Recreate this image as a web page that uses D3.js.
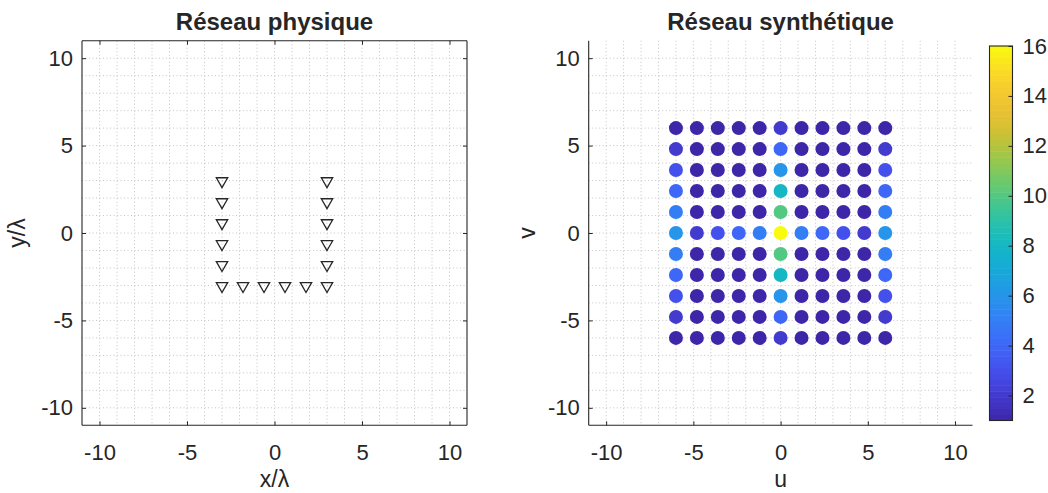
<!DOCTYPE html>
<html>
<head>
<meta charset="utf-8">
<script src="https://cdn.jsdelivr.net/npm/d3@7"></script>
<style>
  body { margin: 0; background: #fff; }
  text { font-family: "Liberation Sans", Arial, Helvetica, sans-serif; fill: #262626; }
</style>
</head>
<body>
<div id="fig"></div>
<script>
// physical array element positions (x/lambda, y/lambda)
var physX = [-3, -3, -3, -3, -3, -3, 3, 3, 3, 3, 3, 3, -1.8, -0.6, 0.6, 1.8];
var physY = [3, 1.8, 0.6, -0.6, -1.8, -3, 3, 1.8, 0.6, -0.6, -1.8, -3, -3, -3, -3, -3];

// synthetic (co-array) grid positions, u and v
var uvGrid = [-6, -4.8, -3.6, -2.4, -1.2, 0, 1.2, 2.4, 3.6, 4.8, 6];
// counts per point, rows from v = 6 (top) down to v = -6, columns u = -6 .. 6
var counts = [
  [1, 1, 1, 1, 1, 2, 1, 1, 1, 1, 1],
  [2, 1, 1, 1, 1, 4, 1, 1, 1, 1, 2],
  [3, 1, 1, 1, 1, 6, 1, 1, 1, 1, 3],
  [4, 1, 1, 1, 1, 8, 1, 1, 1, 1, 4],
  [5, 1, 1, 1, 1, 10, 1, 1, 1, 1, 5],
  [6, 2, 3, 4, 5, 16, 5, 4, 3, 2, 6],
  [5, 1, 1, 1, 1, 10, 1, 1, 1, 1, 5],
  [4, 1, 1, 1, 1, 8, 1, 1, 1, 1, 4],
  [3, 1, 1, 1, 1, 6, 1, 1, 1, 1, 3],
  [2, 1, 1, 1, 1, 4, 1, 1, 1, 1, 2],
  [1, 1, 1, 1, 1, 2, 1, 1, 1, 1, 1]
];

var axisTicks = [-10, -5, 0, 5, 10];
var cbarTicks = [2, 4, 6, 8, 10, 12, 14, 16];
var titles = ["Réseau physique", "Réseau synthétique"];
var xLabels = ["x/λ", "u"];
var yLabels = ["y/λ", "v"];

// parula-like colormap anchors
var parula = ["#3e26a8", "#4747eb", "#3e6ffe", "#2796eb", "#08b5d0",
              "#31c69f", "#80cc59", "#dcbd29", "#fcc538", "#f9fb0e"];

var W = 1048, H = 493;
var svg = d3.select("#fig").append("svg").attr("width", W).attr("height", H);

var colorT = d3.scaleLinear().domain([1, 16]).range([0, 1]);
var interp = d3.interpolateRgbBasis(parula);
function cmap(v) { return interp(colorT(v)); }
// plain hyphen for negatives, like the original figure
var fmt = function(d) { return String(d); };

// axes boxes: [left, right]
var panels = [
  {x0: 82, x1: 467, box: true},
  {x0: 588.7, x1: 972.5, box: false}
];
var yTop = 40.7, yBot = 425.3;

panels.forEach(function(p, k) {
  var x = d3.scaleLinear().domain([-11, 11]).range([p.x0, p.x1]);
  var y = d3.scaleLinear().domain([-11, 11]).range([yBot, yTop]);
  p.x = x; p.y = y;
  var g = svg.append("g");

  // dotted grid at every unit
  var gridVals = d3.range(-10, 11);
  g.selectAll(".gx").data(gridVals).enter().append("line")
    .attr("x1", function(d) { return x(d); }).attr("x2", function(d) { return x(d); })
    .attr("y1", yTop).attr("y2", yBot)
    .attr("stroke", "#c4c4c4").attr("stroke-width", 1).attr("stroke-dasharray", "1,2.5");
  g.selectAll(".gy").data(gridVals).enter().append("line")
    .attr("y1", function(d) { return y(d); }).attr("y2", function(d) { return y(d); })
    .attr("x1", p.x0).attr("x2", p.x1)
    .attr("stroke", "#c4c4c4").attr("stroke-width", 1).attr("stroke-dasharray", "1,2.5");

  // axes
  var ax = g.append("g").attr("transform", "translate(0," + yBot + ")")
    .call(d3.axisBottom(x).tickValues(axisTicks).tickSize(-4).tickPadding(19).tickFormat(fmt));
  var ay = g.append("g").attr("transform", "translate(" + p.x0 + ",0)")
    .call(d3.axisLeft(y).tickValues(axisTicks).tickSize(-4).tickPadding(9).tickFormat(fmt));
  [ax, ay].forEach(function(a) {
    a.select(".domain").attr("stroke", "#262626").attr("stroke-width", 1.1);
    a.selectAll(".tick line").attr("stroke", "#262626");
    a.selectAll(".tick text").style("font-size", "22px").attr("fill", "#262626")
      .style("font-family", '"Liberation Sans", Arial, sans-serif');
  });
  ax.select(".domain").attr("d", "M" + p.x0 + ",0H" + p.x1);
  ay.select(".domain").attr("d", "M0," + yTop + "V" + yBot);

  if (p.box) {
    var at = g.append("g").attr("transform", "translate(0," + yTop + ")")
      .call(d3.axisTop(x).tickValues(axisTicks).tickSize(-4).tickFormat(""));
    var ar = g.append("g").attr("transform", "translate(" + p.x1 + ",0)")
      .call(d3.axisRight(y).tickValues(axisTicks).tickSize(-4).tickFormat(""));
    at.select(".domain").attr("d", "M" + p.x0 + ",0H" + p.x1);
    ar.select(".domain").attr("d", "M0," + yTop + "V" + yBot);
    [at, ar].forEach(function(a) {
      a.select(".domain").attr("stroke", "#262626").attr("stroke-width", 1.1);
      a.selectAll(".tick line").attr("stroke", "#262626");
    });
  }

  // titles and labels
  var cx = (p.x0 + p.x1) / 2;
  svg.append("text").attr("x", cx).attr("y", 29.5).attr("text-anchor", "middle")
    .style("font-size", "24px").style("font-weight", "bold").attr("fill", "#000")
    .text(titles[k]);
  svg.append("text").attr("x", cx).attr("y", 487).attr("text-anchor", "middle")
    .style("font-size", "23px").text(xLabels[k]);
  var ylx = k === 0 ? 25 : 535;
  svg.append("text").attr("transform", "translate(" + ylx + "," + ((yTop + yBot) / 2) + ") rotate(-90)")
    .attr("text-anchor", "middle").style("font-size", "23px").text(yLabels[k]);
});

// physical array markers (downward triangles)
var pl = panels[0];
var tri = d3.symbol().type(d3.symbolTriangle).size(56);
svg.append("g").selectAll("path").data(physX).enter().append("path")
  .attr("d", tri)
  .attr("transform", function(d, i) { return "translate(" + pl.x(d) + "," + (pl.y(physY[i]) + 0.5) + ") rotate(180)"; })
  .attr("fill", "none").attr("stroke", "#262626").attr("stroke-width", 1.3);

// synthetic array points
var pr = panels[1];
var pts = [];
counts.forEach(function(row, r) {
  row.forEach(function(c, j) {
    pts.push({u: uvGrid[j], v: uvGrid[uvGrid.length - 1 - r], c: c});
  });
});
svg.append("g").selectAll("circle").data(pts).enter().append("circle")
  .attr("cx", function(d) { return pr.x(d.u); })
  .attr("cy", function(d) { return pr.y(d.v); })
  .attr("r", 7)
  .attr("fill", function(d) { return cmap(d.c); });

// colorbar
var cbX0 = 989.5, cbX1 = 1012.5, cbTop = 46, cbBot = 420.5;
var cy = d3.scaleLinear().domain([1, 16]).range([cbBot, cbTop]);
var nBands = 64;
var bands = d3.range(nBands);
var bandH = (cbBot - cbTop) / nBands;
svg.append("g").selectAll("rect").data(bands).enter().append("rect")
  .attr("x", cbX0).attr("width", cbX1 - cbX0)
  .attr("y", function(d) { return cbBot - (d + 1) * bandH; })
  .attr("height", bandH + 0.5)
  .attr("fill", function(d) { return interp((d + 0.5) / nBands); });
var cax = svg.append("g").attr("transform", "translate(" + cbX1 + ",0)")
  .call(d3.axisRight(cy).tickValues(cbarTicks).tickSize(-4).tickPadding(10).tickFormat(fmt));
cax.select(".domain").remove();
cax.selectAll(".tick line").attr("stroke", "#262626");
cax.selectAll(".tick text").style("font-size", "22px").attr("fill", "#262626");
svg.append("rect").attr("x", cbX0).attr("y", cbTop).attr("width", cbX1 - cbX0).attr("height", cbBot - cbTop)
  .attr("fill", "none").attr("stroke", "#262626").attr("stroke-width", 1.1);
</script>
</body>
</html>
